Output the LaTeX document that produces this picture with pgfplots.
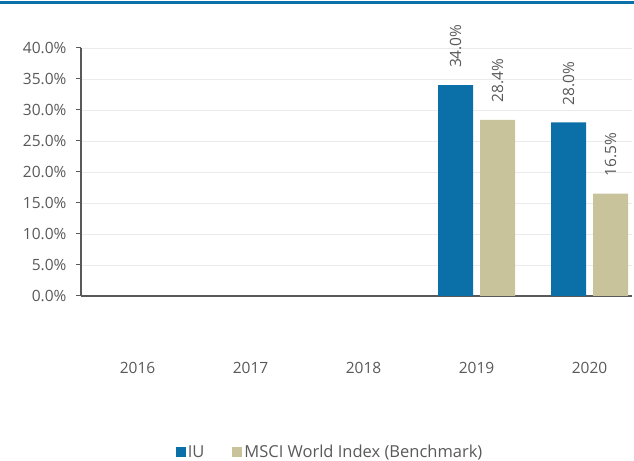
\documentclass[border=0pt]{standalone}
\usepackage{fontspec}
\setmainfont{Open Sans}
\usepackage{pgfplots}
\pgfplotsset{compat=1.18}
\definecolor{iublue}{HTML}{0B6FA8}
\definecolor{msci}{HTML}{C8C39B}
\definecolor{txt}{HTML}{595959}
\definecolor{gridc}{HTML}{EBEBEB}
\begin{document}
\begin{tikzpicture}
\begin{axis}[
  scale only axis, width=551pt, height=248pt,
  clip=false,
  xmin=-0.5, xmax=4.376, ymin=0, ymax=40,
  axis x line*=bottom, axis y line*=left,
  axis line style={txt, line width=1.6pt, -},
  ybar=7pt, bar width=35pt,
  ytick={0,5,...,40},
  yticklabel={\pgfmathprintnumber[fixed,fixed zerofill,precision=1]{\tick}\%},
  /pgf/number format/assume math mode=true,
  xtick={0,1,2,3,4},
  xticklabels={2016,2017,2018,2019,2020},
  major x tick style={draw=none},
  major y tick style={txt, line width=1pt},
  tick align=outside, major tick length=5pt,
  ymajorgrids, grid style={gridc, line width=0.8pt},
  tick label style={font=\fontsize{15.5}{18}\selectfont, text=txt},
  xticklabel style={yshift=-58pt},
  yticklabel style={xshift=-6pt},
  nodes near coords={\pgfmathprintnumber[fixed,fixed zerofill,precision=1]{\pgfplotspointmeta}\%},
  nodes near coords style={font=\fontsize{15.5}{18}\selectfont, text=txt, anchor=west, rotate=90, xshift=17pt, inner sep=0pt},
  legend style={at={(0.452,-0.629)}, anchor=center, draw=none, fill=none,
    font=\fontsize{16.5}{19}\selectfont, text=txt, legend columns=2,
    /tikz/every even column/.append style={column sep=26pt}},
  legend image code/.code={\fill[#1] (0pt,-5pt) rectangle (10pt,5pt);},
]
\addplot[fill=iublue, draw=none] coordinates {(3,34.0) (4,28.0)};
\addplot[fill=msci, draw=none] coordinates {(3,28.4) (4,16.5)};
\legend{IU, MSCI World Index (Benchmark)}
\fill[iublue] (rel axis cs:-0.15,1.1875) rectangle (rel axis cs:1.01,1.1754);
\coordinate (bl) at (rel axis cs:-0.147,-0.6653);
\coordinate (tr) at (rel axis cs:1.00363,1.1935);
\end{axis}
\pgfresetboundingbox
\useasboundingbox (bl) rectangle (tr);
\end{tikzpicture}
\end{document}
